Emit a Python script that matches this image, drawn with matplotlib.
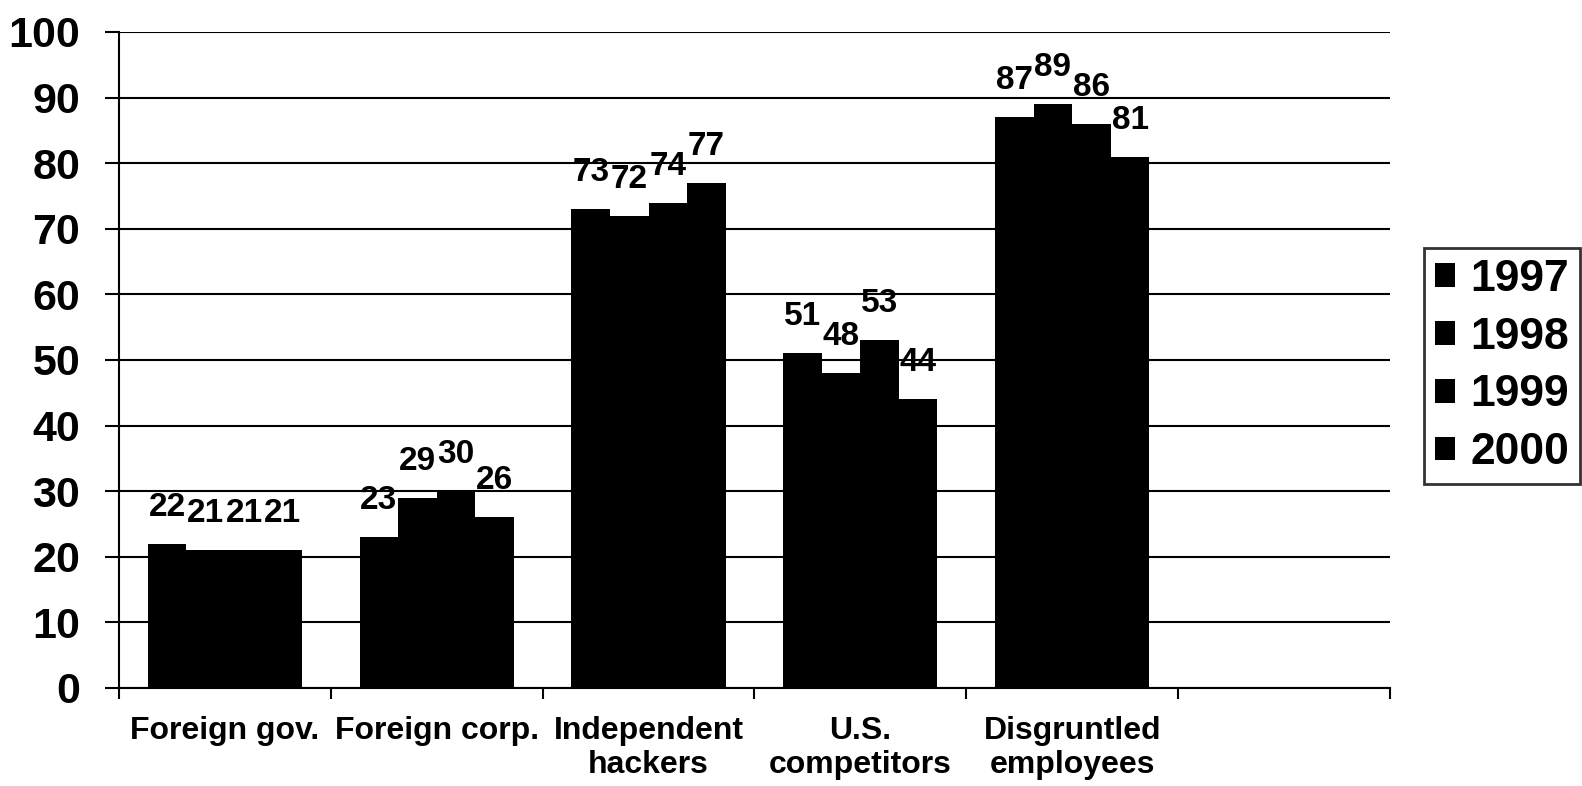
import numpy as np
import matplotlib.pyplot as plt

plt.rcParams['font.family'] = ['Liberation Sans', 'DejaVu Sans']
plt.rcParams['font.weight'] = 'bold'

# data
categories = ["Foreign gov.", "Foreign corp.", "Independent\nhackers",
              "U.S.\ncompetitors", "Disgruntled\nemployees", ""]
years = ["1997", "1998", "1999", "2000"]
v1997 = [22, 23, 73, 51, 87]
v1998 = [21, 29, 72, 48, 89]
v1999 = [21, 30, 74, 53, 86]
v2000 = [21, 26, 77, 44, 81]
series = [v1997, v1998, v1999, v2000]

fig = plt.figure(figsize=(15.82, 7.86), dpi=100)
ax = fig.add_axes([0.0752, 0.1247, 0.8034, 0.8346])

w = 0.182
centers = np.arange(len(v1997)) + 0.5
for j, vals in enumerate(series):
    xs = centers + (j - 1.5) * w
    ax.bar(xs, vals, width=w, color="black", label=years[j], zorder=3)
    for x, v in zip(xs, vals):
        ax.text(x, v + 3.2, str(v), ha="center", va="bottom",
                fontsize=24, fontweight="bold", zorder=4)

ax.set_xlim(0, 6)
ax.set_ylim(0, 100)
ax.set_yticks(np.arange(0, 101, 10))
ax.set_xticks(np.arange(0, 7))
ax.set_xticklabels([])
ax.set_xticks(np.arange(6) + 0.5, minor=True)
ax.set_xticklabels(categories, minor=True, fontsize=23, fontweight="bold",
                   linespacing=1.2)
ax.tick_params(axis="x", which="minor", length=0, pad=20)
ax.tick_params(axis="x", which="major", length=8, width=1.5, direction="out")
ax.tick_params(axis="y", length=10, width=1.5, labelsize=31, pad=18)
for lab in ax.get_yticklabels():
    lab.set_fontweight("bold")

ax.yaxis.grid(True, color="black", linewidth=1.5, zorder=1)
for s in ["top", "right"]:
    ax.spines[s].set_visible(False)
ax.spines["left"].set_linewidth(1.5)
ax.spines["bottom"].set_linewidth(1.5)

leg = fig.legend(loc="upper left", bbox_to_anchor=(0.9, 0.685),
                 prop={"size": 32, "weight": "bold"},
                 frameon=True, fancybox=False, edgecolor="black",
                 handlelength=0.45, handleheight=0.45, handletextpad=0.35,
                 labelspacing=0.38, borderpad=0.25, borderaxespad=0)
leg.get_frame().set_linewidth(2)

fig.savefig("out.png", dpi=100)
